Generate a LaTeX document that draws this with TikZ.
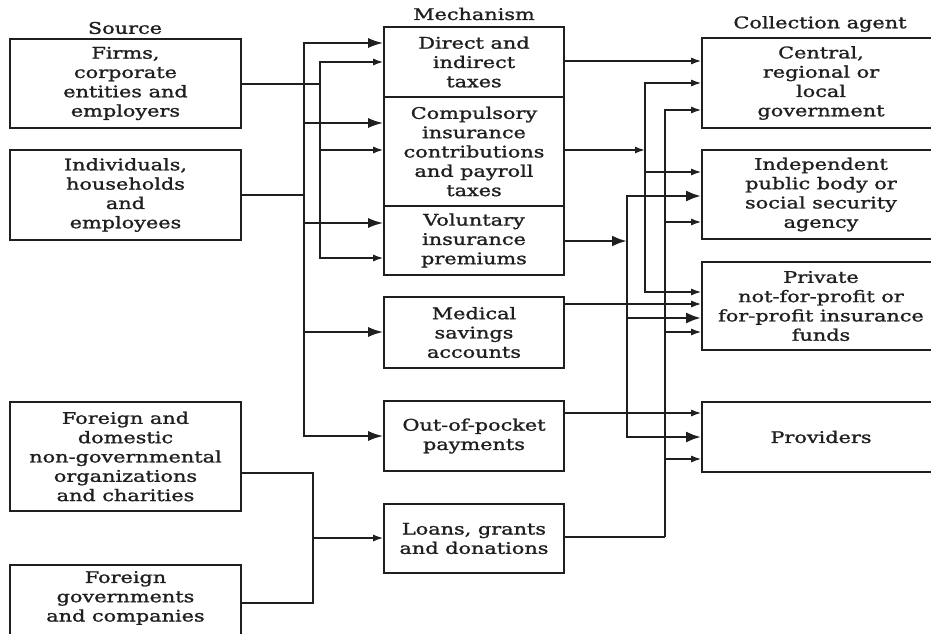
\documentclass[tikz,border=0pt]{standalone}
\usepackage{fontspec}
\setmainfont{DejaVu Serif}[FakeStretch=1.3,FakeBold=1.4]
\usetikzlibrary{arrows.meta}
\definecolor{ink}{gray}{0.12}
\begin{document}
\begin{tikzpicture}[x=1pt,y=-1pt,
  box/.style={draw=ink, line width=1.6pt, align=center, inner sep=0pt,
    text=ink, font=\fontsize{16}{19.3}\selectfont},
  boxtext/.style={align=center, inner sep=0pt, text=ink, font=\fontsize{16}{19.3}\selectfont},
  hdr/.style={font=\fontsize{16}{18}\selectfont, inner sep=0pt, text=ink},
  ln/.style={draw=ink, line width=1.5pt},
  sarr/.style={ln, -{Latex[length=10pt,width=7pt]}},
  barr/.style={draw=ink, line width=1.9pt, -{Latex[length=15pt,width=10pt]}},
  tarr/.style={draw=ink, line width=2.8pt, -{Latex[length=15pt,width=11pt]}},
  line join=miter]
\useasboundingbox (0,0) rectangle (931,634);
% headers
\node[hdr] (hsrc) at (125,28) {Source};
\node[hdr] (hmech) at (474,14) {Mechanism};
\node[hdr] (hcoll) at (820,24) {Collection agent};
% source boxes
\node[box, minimum width=231pt, minimum height=89pt] (firms) at (125.5,83.5) {Firms,\\corporate\\entities and\\employers};
\node[box, minimum width=231pt, minimum height=90pt] (indiv) at (125.5,195) {Individuals,\\households\\and\\employees};
\node[box, minimum width=231pt, minimum height=109pt] (ngo) at (125.5,456.5) {Foreign and\\domestic\\non-governmental\\organizations\\and charities};
\node[box, minimum width=231pt, minimum height=75pt] (fgov) at (125.5,602.5) {};
\node[boxtext] (fgovt) at (125.5,598) {Foreign\\governments\\and companies};
% mechanism boxes
\node[box, minimum width=180pt, minimum height=70pt] (direct) at (474,62) {Direct and\\indirect\\taxes};
\node[box, minimum width=180pt, minimum height=109pt] (comp) at (474,151.5) {Compulsory\\insurance\\contributions\\and payroll\\taxes};
\node[box, minimum width=180pt, minimum height=69pt] (vol) at (474,240.5) {Voluntary\\insurance\\premiums};
\node[box, minimum width=180pt, minimum height=71pt] (med) at (474,332.5) {Medical\\savings\\accounts};
\node[box, minimum width=180pt, minimum height=70pt] (oop) at (474,436) {Out-of-pocket\\payments};
\node[box, minimum width=180pt, minimum height=69pt] (loans) at (474,538.5) {Loans, grants\\and donations};
% collection boxes
\node[box, minimum width=238pt, minimum height=90pt] (central) at (821,83) {Central,\\regional or\\local\\government};
\node[box, minimum width=238pt, minimum height=89pt] (indep) at (821,194.5) {Independent\\public body or\\social security\\agency};
\node[box, minimum width=238pt, minimum height=88pt] (private) at (821,306) {Private\\not-for-profit or\\for-profit insurance\\funds};
\node[box, minimum width=238pt, minimum height=70pt] (prov) at (821,437) {Providers};

% ---- left connectors
\coordinate (j1) at (304,195);
\coordinate (j2) at (320,84);
\draw[ln] (indiv.east) -- (j1);
\draw[ln] (firms.east |- j2) -- (j2);
\draw[barr] (j1) |- (direct.west |- 0,43);
\draw[barr] (j1) |- (comp.west |- 0,123);
\draw[barr] (j1) |- (vol.west |- 0,223);
\draw[barr] (j1) |- (med.west |- 0,332);
\draw[barr] (j1) |- (oop.west |- 0,436);
\draw[sarr] (j2) |- (direct.west |- 0,62);
\draw[sarr] (j2) |- (comp.west |- 0,150);
\draw[sarr] (j2) |- (vol.west |- 0,258);
% bottom sources
\coordinate (j3) at (313,538);
\draw[ln] (ngo.east |- 0,473) -| (j3);
\draw[ln] (fgov.east |- 0,603) -| (j3);
\draw[sarr] (j3) -- (loans.west |- j3);

% ---- right connectors
\draw[sarr] (direct.east |- 0,61) -- (central.west |- 0,61);
\coordinate (jA) at (645,150);
\draw[sarr] (comp.east |- jA) -- (jA);
\draw[sarr] (jA) |- (central.west |- 0,83);
\draw[sarr] (jA) |- (indep.west |- 0,172);
\draw[sarr] (jA) |- (private.west |- 0,292);
\coordinate (jC) at (627,241);
\draw[tarr] (vol.east |- jC) -- (jC);
\draw[tarr] (jC) |- (indep.west |- 0,196);
\draw[tarr] (jC) |- (private.west |- 0,318);
\draw[tarr] (jC) |- (prov.west |- 0,437);
\coordinate (jB) at (665,537);
\draw[ln] (loans.east |- jB) -- (jB);
\draw[sarr] (jB) |- (central.west |- 0,110);
\draw[sarr] (jB) |- (indep.west |- 0,222);
\draw[sarr] (jB) |- (private.west |- 0,332);
\draw[sarr] (jB) |- (prov.west |- 0,459);
\draw[sarr] (med.east |- 0,304) -- (private.west |- 0,304);
\draw[sarr] (oop.east |- 0,413) -- (prov.west |- 0,413);
\end{tikzpicture}
\end{document}
